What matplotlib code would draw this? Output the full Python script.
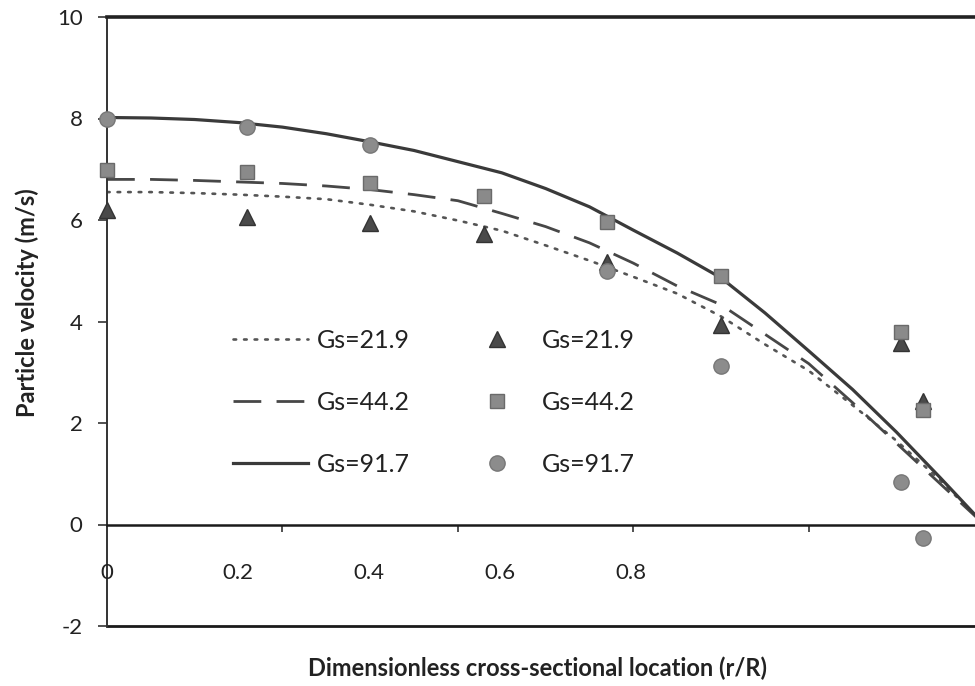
import matplotlib

matplotlib.use("Agg")
import matplotlib.pyplot as plt
from matplotlib.lines import Line2D

plt.rcParams["font.family"] = ["Lato", "DejaVu Sans"]

# ── Data

# fitted profiles
fit_x = [0, 0.05, 0.1, 0.15, 0.2, 0.25, 0.3, 0.35, 0.4, 0.45, 0.5,
         0.55, 0.6, 0.65, 0.7, 0.75, 0.8, 0.85, 0.9, 0.95, 1.0]
fit_219 = [6.55, 6.55, 6.53, 6.50, 6.46, 6.41, 6.30, 6.17, 5.99, 5.79, 5.50,
           5.20, 4.88, 4.55, 4.10, 3.55, 3.03, 2.35, 1.65, 0.87, 0.0]
fit_442 = [6.80, 6.80, 6.78, 6.75, 6.72, 6.67, 6.60, 6.50, 6.38, 6.13, 5.87,
           5.55, 5.15, 4.70, 4.33, 3.75, 3.17, 2.40, 1.60, 0.80, 0.0]
fit_917 = [8.02, 8.01, 7.98, 7.92, 7.83, 7.70, 7.54, 7.37, 7.15, 6.93, 6.62,
           6.26, 5.80, 5.35, 4.86, 4.17, 3.42, 2.66, 1.82, 0.92, 0.0]

# measured points
meas_x = [0, 0.16, 0.30, 0.43, 0.57, 0.70, 0.905, 0.93]
meas_219 = [6.19, 6.06, 5.94, 5.73, 5.17, 3.94, 3.57, 2.44]
meas_442 = [6.99, 6.94, 6.73, 6.48, 5.97, 4.90, 3.79, 2.25]
meas_91_x = [0, 0.16, 0.30, 0.57, 0.70, 0.905, 0.93]
meas_917 = [8.00, 7.84, 7.47, 5.00, 3.13, 0.83, -0.26]

labels = ["Gs=21.9", "Gs=44.2", "Gs=91.7"]
x_ticks = [0, 0.2, 0.4, 0.6, 0.8]
y_ticks = [-2, 0, 2, 4, 6, 8, 10]

# ── Styles
TXT = "#222222"
FS = 16
FS_LAB = 17
FS_LEG = 18
line_styles = [
    dict(color="#555555", lw=1.9, linestyle=(0, (1, 3)), dash_capstyle="round"),
    dict(color="#474747", lw=2.0, dashes=(10, 5.5)),
    dict(color="#3a3a3a", lw=2.3, linestyle="-"),
]
marker_styles = [
    dict(marker="^", color="#4a4a4a", markeredgecolor="#333333", markersize=11),
    dict(marker="s", color="#8a8a8a", markeredgecolor="#6a6a6a", markersize=10.5),
    dict(marker="o", color="#8c8c8c", markeredgecolor="#777777", markersize=11),
]

fig = plt.figure(figsize=(9.75, 6.86), dpi=100)
ax = fig.add_axes([107 / 975, 1 - 626 / 686, 868 / 975, 609 / 686])

for ys, st in zip([fit_219, fit_442, fit_917], line_styles):
    ax.plot(fit_x, ys, zorder=2, **st)

for xs, ys, st in zip([meas_x, meas_x, meas_91_x],
                      [meas_219, meas_442, meas_917], marker_styles):
    ax.plot(xs, ys, linestyle="none", zorder=3, clip_on=False, **st)

ax.set_xlim(0, 868 / 877.2)
ax.set_ylim(-2, 10)

# axes frame: x axis crosses at y=0, extra rule at y=-2
ax.spines["right"].set_visible(False)
ax.spines["bottom"].set_position(("data", 0))
ax.spines["bottom"].set_linewidth(1.8)
ax.spines["bottom"].set_color("#1a1a1a")
ax.spines["left"].set_linewidth(1.4)
ax.spines["left"].set_color("#333333")
ax.spines["top"].set_linewidth(2.6)
ax.spines["top"].set_color("#222222")
ax.axhline(-2, color="#1a1a1a", lw=2.0, clip_on=False, zorder=1)

ax.set_yticks(y_ticks)
ax.set_yticklabels([f"{v:g}" for v in y_ticks])
ax.tick_params(axis="y", direction="out", length=6.5, width=1.2,
               pad=11, labelsize=FS, colors="#333333", labelcolor=TXT)
ax.set_xticks(x_ticks[1:])
ax.set_xticklabels([])
ax.tick_params(axis="x", direction="out", length=5, width=1.2, colors="#333333")

# x tick labels sit between the two rules, spaced a bit tighter than the ticks
for t in x_ticks:
    ax.text(t * 131 / 175.4, -0.95, f"{t:g}", ha="center", va="center",
            fontsize=FS, color=TXT)

fig.text(538 / 975, 1 - 668 / 686, "Dimensionless cross-sectional location (r/R)",
         ha="center", va="center", fontsize=FS_LAB, fontweight="bold", color=TXT)
fig.text(27 / 975, 1 - 303 / 686, "Particle velocity (m/s)", rotation=90,
         ha="center", va="center", fontsize=FS_LAB, fontweight="bold", color=TXT)

# ── Legends: lines on the left, markers on the right
line_handles = [Line2D([], [], **st) for st in line_styles]
mark_handles = [Line2D([], [], linestyle="none", **st) for st in marker_styles]

leg1 = fig.legend(line_handles, labels, loc="upper left",
                  bbox_to_anchor=(233 / 975, 1 - 329 / 686), frameon=False,
                  fontsize=FS_LEG, handlelength=3.0, handletextpad=0.36,
                  labelspacing=1.56, borderpad=0, borderaxespad=0)
leg2 = fig.legend(mark_handles, labels, loc="upper left",
                  bbox_to_anchor=(484 / 975, 1 - 329 / 686), frameon=False,
                  fontsize=FS_LEG, handlelength=1.0, handletextpad=1.32,
                  labelspacing=1.56, borderpad=0, borderaxespad=0)
for leg in (leg1, leg2):
    for t in leg.get_texts():
        t.set_color(TXT)

fig.savefig("out.png", dpi=100)
